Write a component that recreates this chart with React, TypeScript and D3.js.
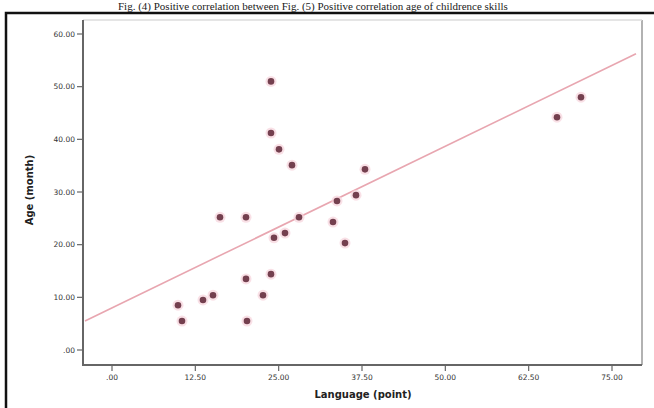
import React, { useEffect, useRef } from 'react';
import * as d3 from 'd3';

// language score (x) and age in months (y)
const language = [
  23.85, 23.85, 25.05, 27.0, 37.95, 36.6, 33.75, 16.2, 20.1, 28.05, 33.15, 25.95,
  24.3, 34.95, 23.85, 20.1, 22.65, 15.15, 13.65, 9.9, 10.5, 20.25, 66.75, 70.35,
];
const age = [
  51.0, 41.2, 38.1, 35.1, 34.3, 29.4, 28.3, 25.2, 25.2, 25.2, 24.3, 22.2,
  21.3, 20.3, 14.4, 13.5, 10.4, 10.4, 9.5, 8.5, 5.5, 5.5, 44.2, 48.0,
];
const xTicks = [0, 12.5, 25, 37.5, 50, 62.5, 75];
const yTicks = [0, 10, 20, 30, 40, 50, 60];
const fitIntercept = 8.0;
const fitSlope = 0.614;
const caption =
  'Fig. (4) Positive correlation between Fig. (5) Positive correlation age of childrence skills';

const fmt = (v: number) => (v === 0 ? '.00' : v.toFixed(2));

export default function App() {
  const ref = useRef<SVGSVGElement>(null);

  useEffect(() => {
    if (!ref.current) return;
    const svg = d3.select(ref.current);
    svg.selectAll('*').remove();

    const width = 654;
    const height = 408;
    const plot = { left: 83, right: 642, top: 20, bottom: 365 };

    svg.attr('width', width).attr('height', height);

    svg.append('rect').attr('width', width).attr('height', height).attr('fill', '#fff');

    // ------- caption above the frame -------
    svg.append('text')
      .attr('x', 118)
      .attr('y', 9.5)
      .attr('font-family', 'Liberation Serif, serif')
      .attr('font-size', 11)
      .attr('fill', '#222')
      .text(caption);

    // ------- outer black frame -------
    svg.append('path')
      .attr('d', `M6,${height + 5} V13 H${width + 5}`)
      .attr('fill', 'none')
      .attr('stroke', '#111')
      .attr('stroke-width', 2.5);

    // ------- Scales -------
    const x = d3.scaleLinear().domain([0, 75]).range([112, 612]);
    const y = d3.scaleLinear().domain([0, 60]).range([350, 34]);

    // ------- plot frame -------
    svg.append('line')
      .attr('x1', plot.right).attr('x2', plot.right)
      .attr('y1', plot.top).attr('y2', plot.bottom)
      .attr('stroke', '#999').attr('stroke-width', 1.5);
    svg.append('line')
      .attr('x1', plot.left).attr('x2', plot.right)
      .attr('y1', plot.top).attr('y2', plot.top)
      .attr('stroke', '#ddd').attr('stroke-width', 1.5);

    // ------- Axes -------
    const yAxis = svg.append('g').attr('transform', `translate(${plot.left},0)`);
    yAxis.append('line')
      .attr('y1', plot.top).attr('y2', plot.bottom + 1)
      .attr('stroke', '#666').attr('stroke-width', 2);
    yTicks.forEach((t) => {
      yAxis.append('line')
        .attr('x1', -6).attr('x2', 0)
        .attr('y1', y(t)).attr('y2', y(t))
        .attr('stroke', '#666').attr('stroke-width', 1.2);
      yAxis.append('text')
        .attr('x', -8)
        .attr('y', y(t))
        .attr('dy', '0.35em')
        .attr('text-anchor', 'end')
        .attr('font-family', 'DejaVu Sans, sans-serif')
        .attr('font-size', 7.5)
        .attr('fill', '#333')
        .text(fmt(t));
    });

    const xAxis = svg.append('g').attr('transform', `translate(0,${plot.bottom})`);
    xAxis.append('line')
      .attr('x1', plot.left - 1).attr('x2', plot.right)
      .attr('stroke', '#666').attr('stroke-width', 2);
    xTicks.forEach((t) => {
      xAxis.append('line')
        .attr('x1', x(t)).attr('x2', x(t))
        .attr('y1', 0).attr('y2', 6)
        .attr('stroke', '#666').attr('stroke-width', 1.2);
      xAxis.append('text')
        .attr('x', x(t))
        .attr('y', 15)
        .attr('text-anchor', 'middle')
        .attr('font-family', 'DejaVu Sans, sans-serif')
        .attr('font-size', 7.5)
        .attr('fill', '#333')
        .text(fmt(t));
    });

    // ------- axis titles -------
    svg.append('text')
      .attr('x', 363)
      .attr('y', 398)
      .attr('text-anchor', 'middle')
      .attr('font-family', 'DejaVu Sans, sans-serif')
      .attr('font-weight', 'bold')
      .attr('font-size', 10)
      .attr('fill', '#222')
      .text('Language (point)');

    svg.append('text')
      .attr('transform', `translate(33,190) rotate(-90)`)
      .attr('text-anchor', 'middle')
      .attr('font-family', 'DejaVu Sans, sans-serif')
      .attr('font-weight', 'bold')
      .attr('font-size', 10)
      .attr('fill', '#222')
      .text('Age (month)');

    // ------- fit line -------
    const x0 = x.invert(plot.left + 2);
    const x1 = x.invert(plot.right - 6);
    svg.append('line')
      .attr('x1', x(x0)).attr('y1', y(fitIntercept + fitSlope * x0))
      .attr('x2', x(x1)).attr('y2', y(fitIntercept + fitSlope * x1))
      .attr('stroke', '#e8a6b0')
      .attr('stroke-width', 1.6);

    // ------- Points -------
    const pts = language.map((v, i) => ({ lx: v, ay: age[i] }));
    svg.selectAll('circle.halo')
      .data(pts)
      .enter()
      .append('circle')
      .attr('class', 'halo')
      .attr('cx', (d) => x(d.lx))
      .attr('cy', (d) => y(d.ay))
      .attr('r', 5.5)
      .attr('fill', '#f6d3dc')
      .attr('opacity', 0.7);
    svg.selectAll('circle.pt')
      .data(pts)
      .enter()
      .append('circle')
      .attr('class', 'pt')
      .attr('cx', (d) => x(d.lx))
      .attr('cy', (d) => y(d.ay))
      .attr('r', 3.3)
      .attr('fill', '#74404f');
  }, []);

  return <svg ref={ref} style={{ position: 'fixed', left: 0, top: 0 }} />;
}
